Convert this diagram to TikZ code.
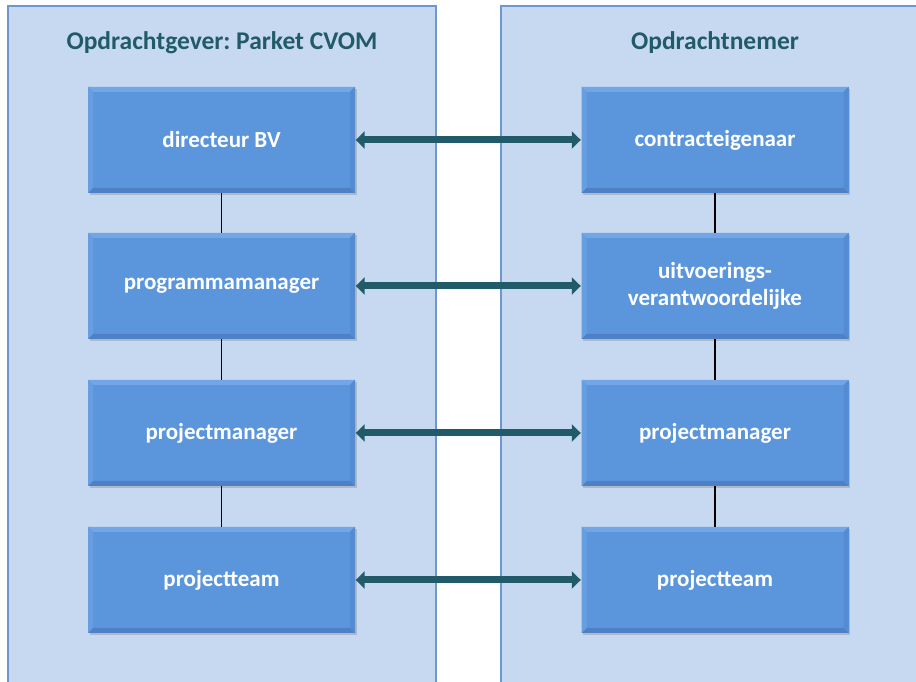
\documentclass[tikz,border=0pt]{standalone}
\usepackage{fontspec}
\setmainfont{Carlito}
\frenchspacing
\usetikzlibrary{arrows.meta,calc,shadows}
\definecolor{panelfill}{HTML}{C6D9F1}
\definecolor{panelline}{HTML}{6C97CF}
\definecolor{boxfill}{HTML}{5B96DD}
\definecolor{boxlight}{HTML}{72A6E6}
\definecolor{boxdark}{HTML}{4D80C4}
\definecolor{tealc}{HTML}{215A68}
\tikzset{
  panel/.style={fill=panelfill, draw=panelline, line width=2pt},
  title/.style={text=tealc, font=\bfseries\fontsize{25.5}{30}\selectfont},
  rolebox/.style={fill=boxfill, minimum width=267pt, minimum height=106pt, inner sep=0pt,
    text=white, align=center, font=\bfseries\fontsize{23}{27}\selectfont,
    drop shadow={opacity=0.35, shadow xshift=1.5pt, shadow yshift=-2.5pt},
    path picture={
      \fill[boxlight] (path picture bounding box.north west) -- (path picture bounding box.north east)
        -- ($(path picture bounding box.north east)+(-5,-5)$) -- ($(path picture bounding box.north west)+(5,-5)$) -- cycle;
      \fill[boxdark] (path picture bounding box.south west) -- (path picture bounding box.south east)
        -- ($(path picture bounding box.south east)+(-5,5)$) -- ($(path picture bounding box.south west)+(5,5)$) -- cycle;
      \fill[boxlight!50!boxfill] (path picture bounding box.north west) -- (path picture bounding box.south west)
        -- ($(path picture bounding box.south west)+(5,5)$) -- ($(path picture bounding box.north west)+(5,-5)$) -- cycle;
      \fill[boxdark!50!boxfill] (path picture bounding box.north east) -- (path picture bounding box.south east)
        -- ($(path picture bounding box.south east)+(-5,5)$) -- ($(path picture bounding box.north east)+(-5,-5)$) -- cycle;
    }},
  link/.style={draw=black, line width=1.6pt},
  pair/.style={draw=tealc, line width=7pt, {Triangle[width=17pt,length=9pt]}-{Triangle[width=17pt,length=9pt]}, shorten <=0.5pt, shorten >=0.5pt}
}
\begin{document}
\begin{tikzpicture}[x=1pt,y=1pt]
\useasboundingbox (0,0) rectangle (916,682);
\begin{scope}
\clip (0,0) rectangle (916,682);
\draw[panel] (8,-10) rectangle (436,676);
\draw[panel] (500.5,-10) rectangle (930,676);
\end{scope}
\node[title] (tl) at (222,639) {Opdrachtgever: Parket CVOM};
\node[title] (tr) at (715,639) {Opdrachtnemer};

\node[rolebox] (l1) at (221.5,542) {directeur BV};
\node[rolebox] (l2) at (221.5,396) {programmamanager};
\node[rolebox] (l3) at (221.5,249) {projectmanager};
\node[rolebox] (l4) at (221.5,102) {projectteam};

\node[rolebox] (r1) at (715,542) {contracteigenaar};
\node[rolebox] (r2) at (715,396) {uitvoerings-\\verantwoordelijke};
\node[rolebox] (r3) at (715,249) {projectmanager};
\node[rolebox] (r4) at (715,102) {projectteam};

\draw[link] (l1) -- (l2);
\draw[link] (l2) -- (l3);
\draw[link] (l3) -- (l4);
\draw[link] (r1) -- (r2);
\draw[link] (r2) -- (r3);
\draw[link] (r3) -- (r4);

\draw[pair] (l1.east) -- (r1.west);
\draw[pair] (l2.east) -- (r2.west);
\draw[pair] (l3.east) -- (r3.west);
\draw[pair] (l4.east) -- (r4.west);
\end{tikzpicture}
\end{document}
